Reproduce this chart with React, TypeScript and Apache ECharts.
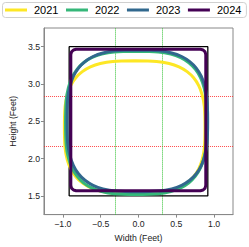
import React, { useEffect, useRef } from "react";
import * as echarts from "echarts";

const years = ["2021", "2022", "2023", "2024"];
const colors = ["#fde725", "#35b779", "#31688e", "#440154"];

const xTicks = [-1.0, -0.5, 0.0, 0.5, 1.0];
const yTicks = [1.5, 2.0, 2.5, 3.0, 3.5];

const zoneHalfWidth = 0.917;
const zoneBottom = 1.5;
const zoneTop = 3.5;
const thirdX = [-0.306, 0.306];
const thirdY = [2.167, 2.833];

const zone2021: number[][] = [
  [-0.05, 3.31], [0.239, 3.301], [0.405, 3.274], [0.536, 3.229], [0.643, 3.165], [0.729, 3.083], [0.795, 2.981], [0.842, 2.855], [0.871, 2.697], [0.88, 2.42],
  [0.871, 2.143], [0.842, 1.985], [0.795, 1.859], [0.729, 1.757], [0.643, 1.675], [0.536, 1.611], [0.405, 1.566], [0.239, 1.539], [-0.05, 1.53],
  [-0.339, 1.539], [-0.505, 1.566], [-0.636, 1.611], [-0.743, 1.675], [-0.829, 1.757], [-0.895, 1.859], [-0.942, 1.985], [-0.971, 2.143], [-0.98, 2.42],
  [-0.971, 2.697], [-0.942, 2.855], [-0.895, 2.981], [-0.829, 3.083], [-0.743, 3.165], [-0.636, 3.229], [-0.505, 3.274], [-0.339, 3.301], [-0.05, 3.31],
];

const zone2022: number[][] = [
  [-0.03, 3.44], [0.261, 3.43], [0.427, 3.401], [0.559, 3.352], [0.667, 3.284], [0.753, 3.195], [0.82, 3.085], [0.867, 2.95], [0.896, 2.779], [0.905, 2.48],
  [0.896, 2.181], [0.867, 2.01], [0.82, 1.875], [0.753, 1.765], [0.667, 1.676], [0.559, 1.608], [0.427, 1.559], [0.261, 1.53], [-0.03, 1.52],
  [-0.321, 1.53], [-0.487, 1.559], [-0.619, 1.608], [-0.727, 1.676], [-0.813, 1.765], [-0.88, 1.875], [-0.927, 2.01], [-0.956, 2.181], [-0.965, 2.48],
  [-0.956, 2.779], [-0.927, 2.95], [-0.88, 3.085], [-0.813, 3.195], [-0.727, 3.284], [-0.619, 3.352], [-0.487, 3.401], [-0.321, 3.43], [-0.03, 3.44],
];

const zone2023: number[][] = [
  [-0.015, 3.455], [0.274, 3.445], [0.44, 3.416], [0.571, 3.368], [0.678, 3.3], [0.764, 3.213], [0.83, 3.104], [0.877, 2.97], [0.906, 2.801], [0.915, 2.505],
  [0.906, 2.209], [0.877, 2.04], [0.83, 1.906], [0.764, 1.797], [0.678, 1.71], [0.571, 1.642], [0.44, 1.594], [0.274, 1.565], [-0.015, 1.555],
  [-0.304, 1.565], [-0.47, 1.594], [-0.601, 1.642], [-0.708, 1.71], [-0.794, 1.797], [-0.86, 1.906], [-0.907, 2.04], [-0.936, 2.209], [-0.945, 2.505],
  [-0.936, 2.801], [-0.907, 2.97], [-0.86, 3.104], [-0.794, 3.213], [-0.708, 3.3], [-0.601, 3.368], [-0.47, 3.416], [-0.304, 3.445], [-0.015, 3.455],
];

const zone2024: number[][] = [
  [0.0, 3.465], [0.82, 3.465], [0.855, 3.456], [0.881, 3.43], [0.89, 3.395],
  [0.89, 1.64], [0.881, 1.605], [0.855, 1.579], [0.82, 1.57],
  [-0.825, 1.57], [-0.86, 1.579], [-0.886, 1.605], [-0.895, 1.64],
  [-0.895, 3.395], [-0.886, 3.43], [-0.86, 3.456], [-0.825, 3.465], [0.0, 3.465],
];

const zones = [zone2021, zone2022, zone2023, zone2024];

const FONT = "Liberation Sans";

function fmt(v: number): string {
  const s = Math.abs(v).toFixed(1);
  return v < 0 ? "\u2212" + s : s;
}

export default function App() {
  const ref = useRef<HTMLDivElement>(null);
  useEffect(() => {
    if (!ref.current) return;
    const chart = echarts.init(ref.current, null, { renderer: "svg" });
    const xMin = -1.25, xMax = 1.25, yMin = 1.25, yMax = 3.75;
    const red = "rgba(255,30,30,0.8)";
    const green = "#2fbf2f";

    const rectSeries = {
      type: "line",
      data: [
        [-zoneHalfWidth, zoneBottom], [zoneHalfWidth, zoneBottom], [zoneHalfWidth, zoneTop],
        [-zoneHalfWidth, zoneTop], [-zoneHalfWidth, zoneBottom],
      ],
      symbol: "none",
      silent: true,
      color: "#000",
      lineStyle: { color: "#000", width: 1.3 },
      z: 2,
      markLine: {
        silent: true,
        symbol: ["none", "none"],
        label: { show: false },
        z: 1,
        data: [
          ...thirdY.map((y) => ({ yAxis: y, lineStyle: { color: red, width: 1, type: "dotted" } })),
          ...thirdX.map((x) => ({ xAxis: x, lineStyle: { color: green, width: 1, type: "dotted" } })),
        ],
      },
    };

    const yearSeries = years.map((y, i) => ({
      name: y,
      type: "line",
      data: zones[i],
      symbol: "none",
      smooth: i === 3 ? false : 0.3,
      color: colors[i],
      lineStyle: { color: colors[i], width: 3 },
      itemStyle: { color: colors[i] },
      z: 3 + i,
    }));

    chart.setOption({
      animation: false,
      legend: {
        data: years,
        left: 2.5,
        top: 2.5,
        icon: "rect",
        itemWidth: 22,
        itemHeight: 3,
        itemGap: 7.5,
        padding: [2, 5, 2, 2.5],
        borderColor: "#d0d0d0",
        borderWidth: 1,
        borderRadius: 3,
        textStyle: { fontFamily: FONT, fontSize: 11, color: "#000", padding: [0, 0, 0, 2] },
      },
      grid: {
        left: 36, top: 28, width: 197, height: 196,
        show: true, borderColor: "#888", borderWidth: 1, backgroundColor: "transparent",
      },
      xAxis: {
        type: "value",
        min: xMin,
        max: xMax,
        name: "Width (Feet)",
        nameLocation: "middle",
        nameGap: 12,
        nameTextStyle: { fontFamily: FONT, fontSize: 8.7, color: "#222" },
        axisLine: { show: true, onZero: false, lineStyle: { color: "#888" } },
        axisTick: { show: true, length: 3, customValues: xTicks, lineStyle: { color: "#888" } },
        axisLabel: { customValues: xTicks, formatter: fmt, margin: 4.5, fontFamily: FONT, fontSize: 8.7, color: "#222" },
        splitLine: { show: false },
      },
      yAxis: {
        type: "value",
        min: yMin,
        max: yMax,
        name: "Height (Feet)",
        nameLocation: "middle",
        nameGap: 15,
        nameTextStyle: { fontFamily: FONT, fontSize: 8.7, color: "#222" },
        axisLine: { show: true, onZero: false, lineStyle: { color: "#888" } },
        axisTick: { show: true, length: 3, customValues: yTicks, lineStyle: { color: "#888" } },
        axisLabel: { customValues: yTicks, formatter: fmt, margin: 4, fontFamily: FONT, fontSize: 8.7, color: "#222" },
        splitLine: { show: false },
      },
      series: [rectSeries, ...yearSeries],
    });
    return () => chart.dispose();
  }, []);
  return (
    <div
      ref={ref}
      style={{ position: "fixed", left: 0, top: 0, width: 249, height: 247, background: "#fff" }}
    />
  );
}
